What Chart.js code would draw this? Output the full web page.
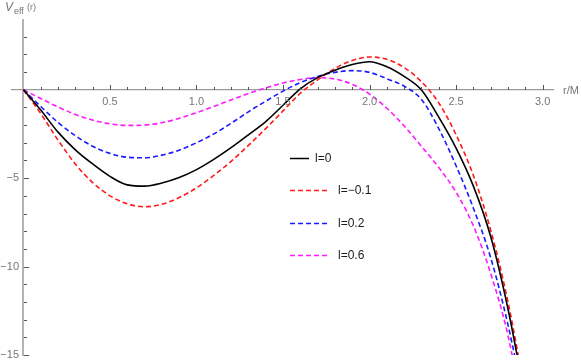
<!DOCTYPE html>
<html>
<head>
<meta charset="utf-8">
<script src="https://cdn.jsdelivr.net/npm/chart.js@4.4.1/dist/chart.umd.min.js"></script>
<style>
html,body{margin:0;padding:0;background:#fff;}
#wrap{width:581px;height:363px;}
</style>
</head>
<body>
<div id="wrap"><canvas id="c" width="581" height="363"></canvas></div>
<script>
// ---- data ----
const rValues = [0,0.1,0.2,0.3,0.4,0.5,0.6,0.7,0.8,0.9,1.0,1.1,1.2,1.3,1.4,1.5,1.6,1.7,1.8,1.9,2.0,2.1,2.2,2.3,2.4,2.5,2.6,2.7,2.8,2.9];
const vL0   = [0,-1.15,-2.4,-3.4,-4.2,-4.9,-5.38,-5.45,-5.28,-4.97,-4.52,-3.94,-3.28,-2.55,-1.8,-0.88,0.05,0.68,1.1,1.42,1.58,1.3,0.75,-0.02,-1.55,-3.3,-5.45,-8.3,-12.4,-17.5];
const vLm01 = [0,-1.35,-2.85,-4.2,-5.25,-6.0,-6.45,-6.62,-6.48,-6.1,-5.55,-4.85,-4.05,-3.15,-2.2,-1.2,-0.2,0.55,1.2,1.65,1.85,1.72,1.25,0.45,-0.75,-2.55,-4.85,-7.95,-12.0,-17.2];
const vL02  = [0,-0.95,-1.85,-2.6,-3.2,-3.6,-3.82,-3.85,-3.7,-3.42,-3.0,-2.5,-1.9,-1.25,-0.65,-0.08,0.4,0.75,0.98,1.08,0.98,0.62,0.2,-0.55,-2.2,-4.3,-6.7,-9.5,-13.3,-18.0];
const vL06  = [0,-0.5,-0.98,-1.4,-1.72,-1.93,-2.02,-2.0,-1.87,-1.62,-1.3,-0.95,-0.58,-0.22,0.1,0.38,0.58,0.68,0.6,0.3,-0.25,-1.05,-2.05,-3.2,-4.4,-5.8,-7.7,-10.4,-13.9,-19.0];
const seriesLabels = ['l=0','l=\u22120.1','l=0.2','l=0.6'];
const xMajorTicks = [0.5,1.0,1.5,2.0,2.5,3.0];
const yMajorTicks = [-5,-10,-15];
const xAxisTitle = 'r/M';

const FONT = "'Liberation Sans', Arial, sans-serif";
const toXY = vals => rValues.map((r,i)=>({x:r,y:vals[i]}));

const xMinor = []; for (let i=1;i<=30;i++) xMinor.push(i/10);
const yMinor = []; for (let v=-15; v<=3; v++) if (v!==0) yMinor.push(v);

const fmtY = v => (v<0 ? '\u2212'+Math.abs(v) : String(v));

const axisDeco = {
  id:'axisDeco',
  afterDraw(chart){
    const ctx = chart.ctx, xs = chart.scales.x, ys = chart.scales.y;
    const y0 = Math.round(ys.getPixelForValue(0)), x0 = Math.round(xs.getPixelForValue(0));
    ctx.save();
    ctx.setLineDash([]);
    ctx.fillStyle = '#555555';
    for (let i=0;i<xMinor.length;i++){
      const px = Math.round(xs.getPixelForValue(xMinor[i]));
      const h = ((i+1)%5===0) ? 5 : 3;
      ctx.fillRect(px, y0-h, 1, h);
    }
    for (let i=0;i<yMinor.length;i++){
      const v = yMinor[i];
      const py = Math.round(ys.getPixelForValue(v));
      const w = (v%5===0) ? 5 : 3;
      ctx.fillRect(x0+1, py, w, 1);
    }
    ctx.fillStyle = '#767676'; ctx.font = '11px ' + FONT;
    ctx.textAlign = 'center'; ctx.textBaseline = 'top';
    xMajorTicks.forEach(v=> ctx.fillText(v.toFixed(1), xs.getPixelForValue(v), y0+6));
    ctx.textAlign = 'right'; ctx.textBaseline = 'middle';
    yMajorTicks.forEach(v=> ctx.fillText(fmtY(v), x0-4, ys.getPixelForValue(v)));
    ctx.textBaseline = 'alphabetic'; ctx.textAlign = 'left';
    ctx.font = 'italic 12px ' + FONT; ctx.fillText('V', 5, 11);
    ctx.font = '9px ' + FONT; ctx.fillText('eff', 14, 14);
    ctx.font = '9px ' + FONT; ctx.fillText('(r)', 27, 10);
    ctx.font = '11px ' + FONT; ctx.textBaseline = 'middle';
    ctx.fillText(xAxisTitle, 563, y0+0.5);
    const rows = [158,190,223,255];
    chart.data.datasets.forEach((ds,i)=>{
      const y = rows[i];
      ctx.strokeStyle = ds.borderColor; ctx.lineWidth = 1.5;
      const dashed = ds.borderDash && ds.borderDash.length;
      ctx.setLineDash(dashed ? ds.borderDash : []);
      const x2 = dashed ? 330 : 309;
      ctx.beginPath(); ctx.moveTo(290,y+0.5); ctx.lineTo(x2,y+0.5); ctx.stroke();
      ctx.setLineDash([]);
      ctx.fillStyle = '#1a1a1a'; ctx.font = '12px ' + FONT; ctx.textBaseline='middle';
      ctx.fillText(ds.label, x2 + (dashed?8:6), y+1);
    });
    ctx.restore();
  }
};

new Chart(document.getElementById('c'), {
  type:'line',
  data:{
    datasets:[
      {label:seriesLabels[0], data:toXY(vL0),   borderColor:'#000000', borderWidth:1.6},
      {label:seriesLabels[1], data:toXY(vLm01), borderColor:'#ff1a1a', borderWidth:1.6, borderDash:[5,3]},
      {label:seriesLabels[2], data:toXY(vL02),  borderColor:'#1a1aff', borderWidth:1.6, borderDash:[5,3]},
      {label:seriesLabels[3], data:toXY(vL06),  borderColor:'#ff1aff', borderWidth:1.6, borderDash:[5,3]}
    ]
  },
  options:{
    responsive:false, animation:false,
    layout:{padding:{left:12, right:28, top:20, bottom:8}},
    elements:{point:{radius:0}, line:{cubicInterpolationMode:'monotone', fill:false}},
    plugins:{legend:{display:false}, tooltip:{enabled:false}},
    scales:{
      x:{
        type:'linear', min:-0.066, max:3.06, position:{y:0},
        ticks:{display:false},
        grid:{display:true, drawOnChartArea:false, drawTicks:false},
        border:{display:true, color:'#9a9a9a', width:1.2}
      },
      y:{
        type:'linear', min:-15, max:3.94, position:{x:0},
        ticks:{display:false},
        grid:{display:true, drawOnChartArea:false, drawTicks:false},
        border:{display:true, color:'#b4b4b4', width:2}
      }
    }
  },
  plugins:[axisDeco]
});
</script>
</body>
</html>
